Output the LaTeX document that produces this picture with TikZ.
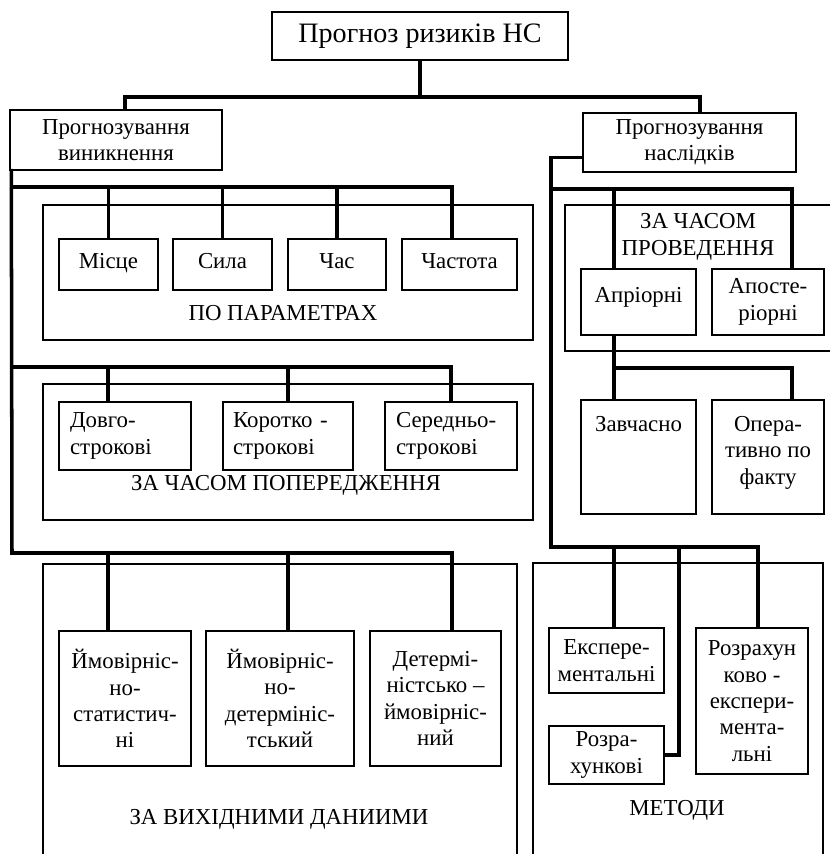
\documentclass[tikz,border=0pt]{standalone}
\usepackage{fontspec}
\setmainfont{Liberation Serif}
\usepackage{tikz}

\begin{document}
\begin{tikzpicture}[x=0.02cm,y=-0.02cm,
        font=\rmfamily\fontsize{13}{15}\selectfont,
        cell/.style={draw,line width=0.8pt,align=center},
        pcell/.style={cell,minimum height=1.02cm,text height=1.6ex,text depth=0.5ex},
        lcell/.style={draw,line width=0.8pt,text width=2.2cm,align=left},
        frame/.style={draw,line width=0.7pt},
        link/.style={line width=2pt,line cap=rect}]
        \useasboundingbox (0,0) rectangle (830,854);
        \clip (0,0) rectangle (830,854);

        % top level
        \node[cell,minimum width=5.92cm,minimum height=0.96cm,font=\rmfamily\fontsize{16}{18}\selectfont] (top) at (420,36) {Прогноз ризиків НС};
        \node[cell,minimum width=4.24cm,minimum height=1.2cm] (prv) at (116,140) {Прогнозування\\виникнення};
        \node[cell,minimum width=4.26cm,minimum height=1.18cm] (prn) at (689.5,142.5) {Прогнозування\\наслідків};

        % group frames
        \node[frame,minimum width=9.8cm,minimum height=2.7cm] (fpar) at (288,272.5) {};
        \node[frame,minimum width=9.8cm,minimum height=2.72cm] (fpop) at (288,452) {};
        \node[frame,minimum width=9.48cm,minimum height=6.32cm] (fvyh) at (280,722) {};
        \node[frame,minimum width=5.6cm,minimum height=2.92cm] (fpro) at (705,278) {};
        \node[frame,minimum width=5.8cm,minimum height=6.34cm] (fmet) at (678,721.5) {};
        \node (lpar) at (283,313) {ПО ПАРАМЕТРАХ};
        \node (lpop) at (286,485) {ЗА ЧАСОМ ПОПЕРЕДЖЕННЯ};
        \node (lvyh) at (279,819) {ЗА ВИХІДНИМИ ДАНИИМИ};
        \node[align=center] (lpro) at (698,237) {ЗА ЧАСОМ\\ПРОВЕДЕННЯ};
        \node (lmet) at (677,810) {МЕТОДИ};

        % by parameters
        \node[pcell,minimum width=1.98cm] (mis) at (108.5,264.5) {Місце};
        \node[pcell,minimum width=1.98cm] (syl) at (222.5,264.5) {Сила};
        \node[pcell,minimum width=1.96cm] (chas) at (337,264.5) {Час};
        \node[pcell,minimum width=2.3cm] (chst) at (459.5,264.5) {Частота};

        % by warning time
        \node[lcell,minimum width=2.64cm,minimum height=1.36cm] (dov) at (125,436) {Довго-\\строкові};
        \node[lcell,minimum width=2.6cm,minimum height=1.36cm] (kor) at (288,436) {Коротко -\\строкові};
        \node[lcell,minimum width=2.64cm,minimum height=1.36cm] (ser) at (451,436) {Середньо-\\строкові};

        % by input data
        \node[cell,minimum width=2.64cm,minimum height=2.7cm] (im1) at (125,698.5) {Ймовірніс-\\но-\\статистич-\\ні};
        \node[cell,minimum width=2.96cm,minimum height=2.7cm] (im2) at (280,698.5) {Ймовірніс-\\но-\\детермініс-\\тський};
        \node[cell,minimum width=2.62cm,minimum height=2.7cm] (det) at (435.5,698.5) {Детермі-\\ністсько --\\ймовірніс-\\ний};

        % consequences
        \node[cell,minimum width=2.3cm,minimum height=1.32cm,text height=0.51cm,text depth=0.5cm] (apr) at (638.5,302) {Апріорні};
        \node[cell,minimum width=2.24cm,minimum height=1.32cm] (aps) at (768,302) {Апосте-\\ріорні};
        \node[cell,minimum width=2.3cm,minimum height=2.28cm,text height=0.47cm,text depth=1.5cm] (zav) at (638.5,457) {Завчасно};
        \node[cell,minimum width=2.24cm,minimum height=2.28cm,text height=1.53cm,text depth=0.44cm] (opr) at (768,457) {Опера-\\тивно по\\факту};
        \node[cell,minimum width=2.3cm,minimum height=1.3cm] (eks) at (606.5,660.5) {Експере-\\ментальні};
        \node[cell,minimum width=2.3cm,minimum height=1.12cm] (roz) at (606.5,755) {Розра-\\хункові};
        \node[cell,minimum width=2.24cm,minimum height=2.92cm] (rke) at (752,701) {Розрахун\\ково -\\експери-\\мента-\\льні};

        % tree links
        \coordinate (hub) at (420,97);
        \draw[link] (top.south) -- (hub);
        \draw[link] (hub) -| ([xshift=0.18cm]prv.north);
        \draw[link] (hub) -| ([xshift=0.21cm]prn.north);

        % left trunk
        \coordinate (ltop) at ([xshift=0.04cm]prv.south west);
        \coordinate (lbot) at (12,553);
        \draw[link] (ltop) -- (lbot);
        \foreach \n in {mis,syl,chas}
            \draw[link] (ltop |- 0,187) -| (\n.north);
        \draw[link] (ltop |- 0,187) -| ([xshift=-0.15cm]chst.north);
        \draw[link] (ltop |- 0,367) -| ([xshift=-0.34cm]dov.north);
        \draw[link] (ltop |- 0,367) -| (kor.north);
        \draw[link] (ltop |- 0,367) -| (ser.north);
        \draw[link] (lbot) -| ([xshift=-0.34cm]im1.north);
        \draw[link] (lbot) -| ([xshift=0.16cm]im2.north);
        \draw[link] (lbot) -| ([xshift=0.33cm]det.north);

        % right trunk
        \coordinate (rtop) at ([yshift=0.3cm]prn.south west);
        \coordinate (rbot) at (551,547);
        \draw[link] (rtop) -| (rbot);
        \draw[link] (rbot |- 0,189) -| ([xshift=-0.49cm]apr.north);
        \draw[link] (rbot |- 0,189) -| ([xshift=0.48cm]aps.north);
        \draw[link] ([xshift=-0.49cm]apr.south) -- ([xshift=-0.49cm]zav.north);
        \draw[link] ([xshift=-0.49cm]apr.south |- 0,368) -| ([xshift=0.48cm]opr.north);
        \draw[link] (rbot) -| ([xshift=0.15cm]eks.north);
        \draw[link] (rbot) -| ([xshift=0.12cm]rke.north);
        \draw[link] (rbot) -| (679,0 |- roz.east) -- (roz.east);
    \end{tikzpicture}
\end{document}
